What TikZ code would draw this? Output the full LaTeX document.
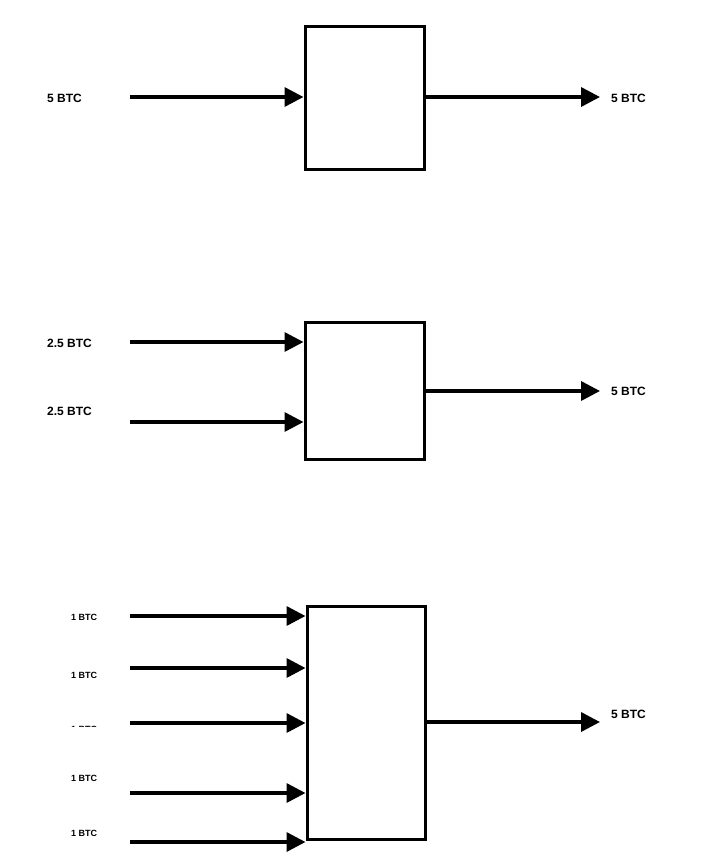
\documentclass[tikz,border=0pt]{standalone}
\usepackage{fontspec}
\setmainfont{Liberation Sans}
\usetikzlibrary{arrows.meta}
\begin{document}
\begin{tikzpicture}[x=1pt,y=-1pt,
  box/.style={draw,line width=3pt,inner sep=0pt},
  flow/.style={line width=3.5pt,-{Triangle[length=19pt,width=19pt]}},
  big/.style={font=\bfseries\fontsize{12}{14}\selectfont,anchor=west,inner sep=0pt},
  small/.style={font=\bfseries\fontsize{9}{11}\selectfont,anchor=west,inner sep=0pt}]
\useasboundingbox (0,0) rectangle (710,865);
% box 1
\node[box,minimum width=119pt,minimum height=143pt] (b1) at (364.5,97.5) {};
\node[big] (l1) at (47,98) {5 BTC};
\node[big] (r1) at (611,98) {5 BTC};
\coordinate (i1) at (130,97);
\coordinate (o1) at (600,97);
\draw[flow] (i1) -- (i1 -| b1.west);
\draw[flow] (o1 -| b1.east) -- (o1);
% box 2
\node[box,minimum width=119pt,minimum height=137pt] (b2) at (364.5,390.5) {};
\node[big] (l2a) at (47,343) {2.5 BTC};
\node[big] (l2b) at (47,411) {2.5 BTC};
\node[big] (r2) at (611,391) {5 BTC};
\coordinate (i2a) at (130,342);
\coordinate (i2b) at (130,422);
\coordinate (o2) at (600,391);
\draw[flow] (i2a) -- (i2a -| b2.west);
\draw[flow] (i2b) -- (i2b -| b2.west);
\draw[flow] (o2 -| b2.east) -- (o2);
% box 3
\node[box,minimum width=118pt,minimum height=233pt] (b3) at (366,722.5) {};
\node[small] (l3a) at (71,617) {1 BTC};
\node[small] (l3b) at (71,675) {1 BTC};
\begin{scope}
\clip (60,700) rectangle (125,726);
\node[small] (l3c) at (71,729) {1 BTC};
\end{scope}
\node[small] (l3d) at (71,778) {1 BTC};
\node[small] (l3e) at (71,833) {1 BTC};
\node[big] (r3) at (611,714) {5 BTC};
\coordinate (i3a) at (130,616);
\coordinate (i3b) at (130,668);
\coordinate (i3c) at (130,723);
\coordinate (i3d) at (130,793);
\coordinate (i3e) at (130,842);
\coordinate (o3) at (600,722);
\foreach \c in {i3a,i3b,i3c,i3d,i3e} \draw[flow] (\c) -- (\c -| b3.west);
\draw[flow] (o3 -| b3.east) -- (o3);
\end{tikzpicture}
\end{document}
